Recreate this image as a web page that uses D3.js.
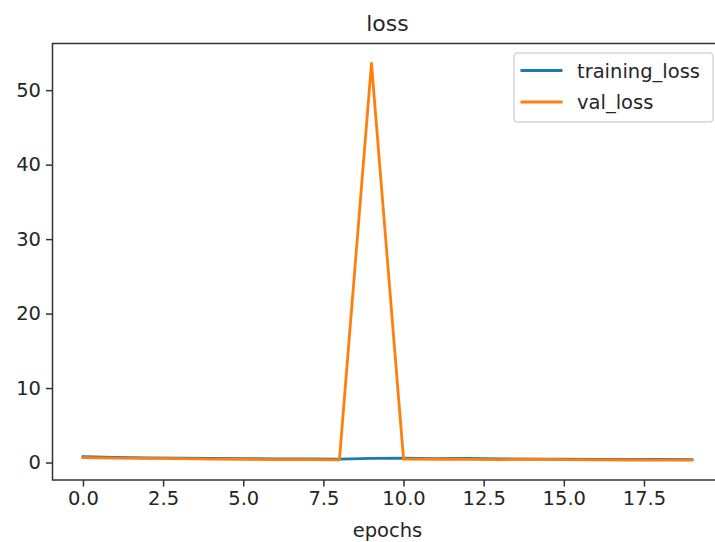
<!DOCTYPE html>
<html>
<head>
<meta charset="utf-8">
<script src="https://cdn.jsdelivr.net/npm/d3@7"></script>
<style>
  body { margin: 0; background: #fff; }
  text { font-family: "DejaVu Sans", sans-serif; fill: #262626; }
</style>
</head>
<body>
<svg id="chart"></svg>
<script>
// loss per epoch
const epochs = d3.range(0, 20);
const trainingLoss = [0.78, 0.68, 0.62, 0.6, 0.57, 0.52, 0.5, 0.48, 0.47, 0.55, 0.6, 0.52, 0.56, 0.5, 0.47, 0.45, 0.43, 0.42, 0.41, 0.4];
const valLoss = [0.65, 0.58, 0.55, 0.52, 0.47, 0.42, 0.4, 0.38, 0.37, 53.6, 0.47, 0.44, 0.42, 0.4, 0.47, 0.38, 0.35, 0.34, 0.33, 0.32];
const seriesNames = ['training_loss', 'val_loss'];
const seriesColors = ['#1f77b4', '#ff7f0e'];
const xTicks = [0, 2.5, 5, 7.5, 10, 12.5, 15, 17.5];
const yTicks = [0, 10, 20, 30, 40, 50];

const width = 715;
const height = 542;
const margin = { top: 43.5, right: -7.5, bottom: 62, left: 52.5 };
const innerW = width - margin.left - margin.right;
const innerH = height - margin.top - margin.bottom;

const svg = d3.select('#chart')
  .attr('width', width)
  .attr('height', height);

const chart = svg.append('g')
  .attr('transform', `translate(${margin.left},${margin.top})`);

// matplotlib style 5% padding around the data
const xExt = d3.extent(epochs);
const xPad = (xExt[1] - xExt[0]) * 0.05;
const allY = trainingLoss.concat(valLoss);
const yExt = d3.extent(allY);
const yPad = (yExt[1] - yExt[0]) * 0.05;

const xScale = d3.scaleLinear()
  .domain([xExt[0] - xPad, xExt[1] + xPad])
  .range([0, innerW]);

const yScale = d3.scaleLinear()
  .domain([yExt[0] - yPad, yExt[1] + yPad])
  .range([innerH, 0]);

const tickFont = 19.5;

const xAxis = chart.append('g')
  .attr('transform', `translate(0,${innerH})`)
  .call(d3.axisBottom(xScale).tickValues(xTicks).tickFormat(d3.format('.1f'))
    .tickSize(6.5).tickPadding(5));
xAxis.select('.domain').remove();
xAxis.selectAll('line').attr('stroke', '#333').attr('stroke-width', 1.5);
xAxis.selectAll('text').attr('font-size', tickFont).attr('font-family', '"DejaVu Sans", sans-serif').attr('fill', '#262626');

const yAxis = chart.append('g')
  .call(d3.axisLeft(yScale).tickValues(yTicks).tickFormat(d3.format('d'))
    .tickSize(6.5).tickPadding(5));
yAxis.select('.domain').remove();
yAxis.selectAll('line').attr('stroke', '#333').attr('stroke-width', 1.5);
yAxis.selectAll('text').attr('font-size', tickFont).attr('font-family', '"DejaVu Sans", sans-serif').attr('fill', '#262626');

// lines
const line = d3.line()
  .x((d, i) => xScale(epochs[i]))
  .y((d) => yScale(d));

[trainingLoss, valLoss].forEach((s, i) => {
  chart.append('path')
    .datum(s)
    .attr('fill', 'none')
    .attr('stroke', seriesColors[i])
    .attr('stroke-width', 2.8)
    .attr('stroke-linejoin', 'round')
    .attr('stroke-linecap', 'square')
    .attr('d', line);
});

// frame
chart.append('rect')
  .attr('width', innerW)
  .attr('height', innerH)
  .attr('fill', 'none')
  .attr('stroke', '#333')
  .attr('stroke-width', 1.5);

// title and label
chart.append('text')
  .attr('x', innerW / 2)
  .attr('y', -13)
  .attr('text-anchor', 'middle')
  .attr('font-size', 22)
  .text('loss');

chart.append('text')
  .attr('x', innerW / 2)
  .attr('y', innerH + 57)
  .attr('text-anchor', 'middle')
  .attr('font-size', tickFont)
  .text('epochs');

// legend
const legend = chart.append('g')
  .attr('transform', `translate(${innerW - 9.5 - 199},9.5)`);

legend.append('rect')
  .attr('width', 199)
  .attr('height', 69)
  .attr('rx', 3.5)
  .attr('fill', '#fff')
  .attr('fill-opacity', 0.8)
  .attr('stroke', '#d6d6d6')
  .attr('stroke-width', 1.5);

seriesNames.forEach((name, i) => {
  const y = 17.5 + i * 31.5;
  legend.append('line')
    .attr('x1', 6.5)
    .attr('x2', 48.5)
    .attr('y1', y)
    .attr('y2', y)
    .attr('stroke', seriesColors[i])
    .attr('stroke-width', 2.8);
  legend.append('text')
    .attr('x', 63)
    .attr('y', y + 7)
    .attr('font-size', tickFont)
    .text(name);
});
</script>
</body>
</html>
